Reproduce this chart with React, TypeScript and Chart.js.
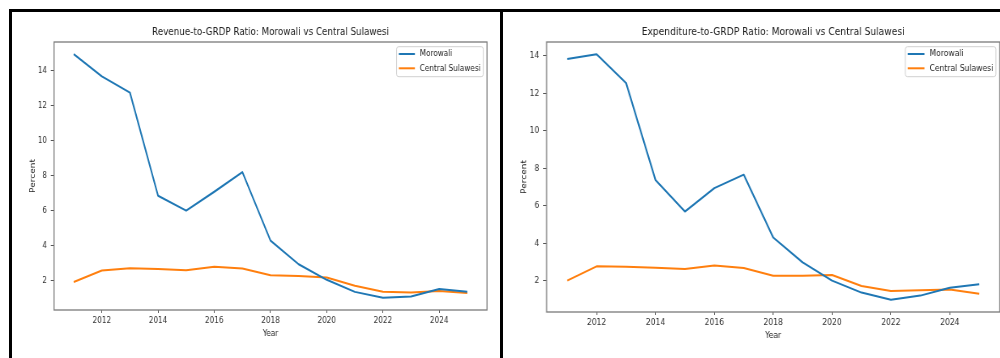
import React, { useEffect, useRef } from "react";
import { Chart, registerables } from "chart.js";

Chart.register(...registerables);

const FONT = "'DejaVu Sans', 'Noto Sans', sans-serif";

// ---- data ----
const years = [2011, 2012, 2013, 2014, 2015, 2016, 2017, 2018, 2019, 2020, 2021, 2022, 2023, 2024, 2025];
const xTicks = [2012, 2014, 2016, 2018, 2020, 2022, 2024];
const yTicks = [2, 4, 6, 8, 10, 12, 14];
const seriesLabels = ["Morowali", "Central Sulawesi"];
const seriesColors = ["#1f77b4", "#ff7f0e"];

const revenueMorowali = [14.93, 13.66, 12.73, 6.84, 5.99, 7.07, 8.19, 4.28, 2.93, 2.04, 1.35, 1.01, 1.09, 1.51, 1.36];
const revenueCentral = [1.91, 2.57, 2.7, 2.65, 2.59, 2.78, 2.68, 2.3, 2.25, 2.17, 1.7, 1.36, 1.32, 1.4, 1.28];

const expenditureMorowali = [13.84, 14.09, 12.56, 7.39, 5.7, 6.95, 7.67, 4.32, 2.99, 2.02, 1.38, 1.0, 1.22, 1.64, 1.82];
const expenditureCentral = [2.02, 2.78, 2.76, 2.71, 2.64, 2.82, 2.69, 2.28, 2.28, 2.32, 1.73, 1.46, 1.5, 1.55, 1.32];

const titles = [
  "Revenue-to-GRDP Ratio: Morowali vs Central Sulawesi",
  "Expenditure-to-GRDP Ratio: Morowali vs Central Sulawesi",
];
const xAxisTitle = "Year";
const yAxisTitle = "Percent";

// matplotlib-like 5% margins
function mplLimits(vals: number[]): [number, number] {
  const lo = Math.min(...vals);
  const hi = Math.max(...vals);
  const r = hi - lo;
  return [lo - 0.05 * r, hi + 0.05 * r];
}

const framePlugin = {
  id: "mplFrame",
  afterDatasetsDraw(chart: any) {
    const { ctx, chartArea } = chart;
    const { left, top, right, bottom } = chartArea;
    ctx.save();
    ctx.strokeStyle = "#7a7a7a";
    ctx.lineWidth = 1.3;
    ctx.strokeRect(left, top, right - left, bottom - top);
    ctx.restore();
  },
};

const legendPlugin = {
  id: "mplLegend",
  afterDraw(chart: any) {
    const { ctx, chartArea } = chart;
    const w = 107;
    const h = 30;
    const x0 = chartArea.right - 4.6 - w;
    const y0 = chartArea.top + 4.7;
    ctx.save();
    ctx.beginPath();
    (ctx as any).roundRect(x0, y0, w, h, 2.5);
    ctx.fillStyle = "rgba(255,255,255,0.85)";
    ctx.fill();
    ctx.strokeStyle = "#d0d0d0";
    ctx.lineWidth = 1;
    ctx.stroke();
    const rows = [7.3, 21.6];
    chart.data.datasets.forEach((ds: any, i: number) => {
      const y = y0 + rows[i];
      ctx.beginPath();
      ctx.moveTo(x0 + 2.8, y);
      ctx.lineTo(x0 + 22.6, y);
      ctx.strokeStyle = ds.borderColor;
      ctx.lineWidth = 2;
      ctx.stroke();
      ctx.fillStyle = "#262626";
      ctx.font = `9px ${FONT}`;
      ctx.textAlign = "left";
      ctx.textBaseline = "middle";
      ctx.fillText(ds.label, x0 + 28.6, y);
    });
    ctx.restore();
  },
};

type PanelCfg = {
  title: string;
  a: number[];
  b: number[];
  squeeze: number;
  yAxisWidth: number;
  padRight: number;
  xAxisHeight: number;
  xTitlePad: number;
  yTitlePad: number;
};

function Panel({ left, cfg }: { left: number; cfg: PanelCfg }) {
  const ref = useRef<HTMLCanvasElement>(null);
  useEffect(() => {
    const [ymin, ymax] = mplLimits([...cfg.a, ...cfg.b]);
    const xmin = years[0] - 0.05 * (years[years.length - 1] - years[0]);
    const xmax = years[years.length - 1] + 0.05 * (years[years.length - 1] - years[0]);
    const mk = (vals: number[], i: number) => ({
      label: seriesLabels[i],
      data: years.map((x, k) => ({ x, y: vals[k] })),
      borderColor: seriesColors[i],
      backgroundColor: seriesColors[i],
      borderWidth: 2,
      pointRadius: 0,
      tension: 0,
      fill: false,
      borderJoinStyle: "round" as const,
    });
    const chart = new Chart(ref.current!, {
      type: "line",
      data: { datasets: [mk(cfg.a, 0), mk(cfg.b, 1)] },
      options: {
        animation: false,
        responsive: true,
        maintainAspectRatio: false,
        devicePixelRatio: 1,
        layout: { padding: { left: 0, top: 0, bottom: 0, right: cfg.padRight } },
        plugins: {
          legend: { display: false },
          tooltip: { enabled: false },
          title: {
            display: true,
            fullSize: false,
            text: cfg.title,
            color: "#222",
            font: { family: FONT, size: 10.8, weight: "normal", lineHeight: 1.2 },
            padding: { top: 26, bottom: 3.04 },
          },
        },
        scales: {
          x: {
            type: "linear",
            min: xmin,
            max: xmax,
            afterBuildTicks: (s: any) => {
              s.ticks = xTicks.map((v) => ({ value: v }));
            },
            afterFit: (s: any) => {
              s.height = cfg.xAxisHeight;
            },
            grid: { drawOnChartArea: false, drawTicks: true, tickLength: 3, tickColor: "#555", lineWidth: 1 },
            border: { display: false },
            ticks: {
              padding: 2,
              color: "#333",
              font: { family: FONT, size: 9 },
              maxRotation: 0,
              autoSkip: false,
              callback: (v: any) => String(v),
            },
            title: {
              display: true,
              text: xAxisTitle,
              color: "#222",
              font: { family: FONT, size: 9 },
              padding: { top: 0, bottom: cfg.xTitlePad },
            },
          },
          y: {
            type: "linear",
            min: ymin,
            max: ymax,
            afterBuildTicks: (s: any) => {
              s.ticks = yTicks.map((v) => ({ value: v }));
            },
            afterFit: (s: any) => {
              s.width = cfg.yAxisWidth;
            },
            grid: { drawOnChartArea: false, drawTicks: true, tickLength: 4, tickColor: "#555", lineWidth: 1 },
            border: { display: false },
            ticks: {
              padding: 4.6,
              color: "#333",
              font: { family: FONT, size: 9 },
              autoSkip: false,
              callback: (v: any) => String(v),
            },
            title: {
              display: true,
              text: yAxisTitle,
              color: "#222",
              font: { family: FONT, size: 9 },
              padding: { top: cfg.yTitlePad, bottom: 0 },
            },
          },
        },
      },
      plugins: [framePlugin, legendPlugin],
    } as any);
    return () => chart.destroy();
  }, [cfg]);

  const w = 500 / cfg.squeeze;
  return (
    <div
      style={{
        position: "absolute",
        left,
        top: 0,
        width: w,
        height: 358,
        transform: `scaleX(${cfg.squeeze})`,
        transformOrigin: "0 0",
      }}
    >
      <canvas ref={ref} />
    </div>
  );
}

const leftCfg: PanelCfg = {
  title: titles[0],
  a: revenueMorowali,
  b: revenueCentral,
  squeeze: 0.81,
  yAxisWidth: 66.7,
  padRight: 16.1,
  xAxisHeight: 48,
  xTitlePad: 18.6,
  yTitlePad: 35.3,
};

const rightCfg: PanelCfg = {
  title: titles[1],
  a: expenditureMorowali,
  b: expenditureCentral,
  squeeze: 0.845,
  yAxisWidth: 55.0,
  padRight: 1.2,
  xAxisHeight: 46,
  xTitlePad: 16.8,
  yTitlePad: 23.6,
};

export default function App() {
  useEffect(() => {
    document.body.style.margin = "0";
    document.body.style.overflow = "hidden";
    document.body.style.background = "#fff";
  }, []);
  return (
    <div style={{ position: "relative", width: 1000, height: 358, overflow: "hidden", background: "#fff" }}>
      <Panel left={0} cfg={leftCfg} />
      <Panel left={500} cfg={rightCfg} />
      <div style={{ position: "absolute", left: 9, top: 9, width: 991, height: 2.5, background: "#000" }} />
      <div style={{ position: "absolute", left: 9, top: 9, width: 2.5, height: 349, background: "#000" }} />
      <div style={{ position: "absolute", left: 500, top: 9, width: 3, height: 349, background: "#000" }} />
    </div>
  );
}
